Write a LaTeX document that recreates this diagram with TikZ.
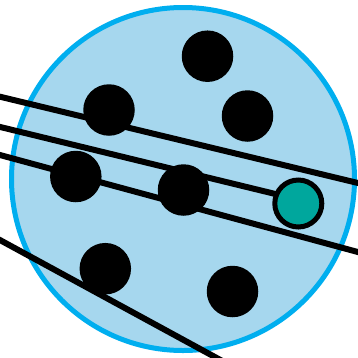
\documentclass[tikz,border=0pt]{standalone}
\definecolor{bgblue}{HTML}{A6D7EE}
\definecolor{rimblue}{HTML}{00AEEF}
\definecolor{tealdot}{HTML}{00A79D}
\begin{document}
\begin{tikzpicture}[x=1pt,y=-1pt,
  bigdisk/.style={circle,fill=bgblue,draw=rimblue,line width=5pt,minimum size=343pt,inner sep=0pt},
  blackdot/.style={circle,fill=black,minimum size=51.5pt,inner sep=0pt},
  tealnode/.style={circle,fill=tealdot,draw=black,line width=5pt,minimum size=47pt,inner sep=0pt},
  wire/.style={line width=6pt,draw=black,line cap=butt}]
\useasboundingbox (0,0) rectangle (358,357);
\clip (0,0) rectangle (358,357);
\node[bigdisk] (c) at (183,179) {};
% free ends
\coordinate (a1) at (-10,94.3);
\coordinate (b1) at (370,185.9);
\coordinate (a2) at (-10,124.5);
\coordinate (a3) at (-10,152.3);
\coordinate (b3) at (370,255.3);
\coordinate (a4) at (-10,234.6);
\coordinate (b4) at (230,365.2);
\draw[wire] (a1) -- (b1);
\draw[wire] (a3) -- (b3);
\draw[wire] (a4) -- (b4);
\draw[wire] (a2) -- (298,199.5);
\node[blackdot] (d1) at (207.5,56.2) {};
\node[blackdot] (d2) at (109,110) {};
\node[blackdot] (d3) at (247.5,116) {};
\node[blackdot] (d4) at (75.8,176.5) {};
\node[blackdot] (d5) at (183.5,190) {};
\node[blackdot] (d6) at (105.3,268.7) {};
\node[blackdot] (d7) at (232.5,291.5) {};
\node[tealnode] (t) at (298.3,203.5) {};
\end{tikzpicture}
\end{document}
